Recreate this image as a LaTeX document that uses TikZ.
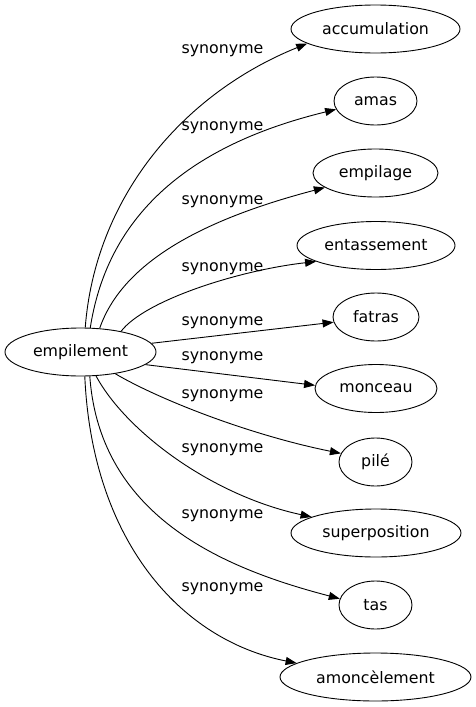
\documentclass[tikz,border=0pt]{standalone}
\usepackage{fontspec}
\setmainfont{DejaVu Sans}
\usetikzlibrary{shapes.geometric,arrows.meta}
\tikzset{
  word/.style={ellipse,draw,line width=0.9pt,inner sep=0pt,minimum height=48pt,font=\fontsize{15.8}{19}\selectfont},
  rel/.style={font=\fontsize{15.8}{19}\selectfont,inner sep=0pt},
  edge/.style={line width=0.9pt,-{Triangle[length=11pt,width=8pt]}}
}
\begin{document}
\begin{tikzpicture}[x=1pt,y=-1pt]
\useasboundingbox (0,0) rectangle (476,707);
\node[word,minimum width=151pt] (e) at (80.5,352) {empilement};
\node[word,minimum width=169pt] (acc) at (375.5,29) {accumulation};
\node[word,minimum width=83pt] (amas) at (375.5,101) {amas};
\node[word,minimum width=125pt] (empilage) at (375.5,173) {empilage};
\node[word,minimum width=158pt] (ent) at (376,245.5) {entassement};
\node[word,minimum width=86pt] (fatras) at (376,317) {fatras};
\node[word,minimum width=122pt] (monceau) at (376,388.5) {monceau};
\node[word,minimum width=73pt] (pile) at (375.5,462) {pilé};
\node[word,minimum width=170pt] (sup) at (376,533) {superposition};
\node[word,minimum width=73pt] (tas) at (375.5,605) {tas};
\node[word,minimum width=191pt] (amon) at (375.5,677) {amoncèlement};

\node[rel] (l1) at (222.5,51) {synonyme};
\node[rel] (l2) at (222.5,128) {synonyme};
\node[rel] (l3) at (222.5,202) {synonyme};
\node[rel] (l4) at (222.5,269) {synonyme};
\node[rel] (l5) at (222.5,323) {synonyme};
\node[rel] (l6) at (222.5,358) {synonyme};
\node[rel] (l7) at (222.5,396) {synonyme};
\node[rel] (l8) at (222.5,450) {synonyme};
\node[rel] (l9) at (222.5,516) {synonyme};
\node[rel] (l10) at (222.5,589) {synonyme};

\draw[edge] (e.79) .. controls (95,200) and (180,95) .. (acc.192);
\draw[edge] (e.68) .. controls (110,200) and (210,140) .. (amas.192);
\draw[edge] (e.51) .. controls (125,255) and (220,215) .. (empilage.196);
\draw[edge] (e.27) .. controls (145,300) and (240,270) .. (ent.195);
\draw[edge] (e.7) -- (fatras.187);
\draw[edge] (e.349) -- (monceau.177);
\draw[edge] (e.328) .. controls (160,400) and (250,435) .. (pile.166);
\draw[edge] (e.303) .. controls (125,430) and (210,495) .. (sup.166);
\draw[edge] (e.291) .. controls (100,520) and (230,570) .. (tas.170);
\draw[edge] (e.280) .. controls (92,540) and (180,640) .. (amon.170);
\end{tikzpicture}
\end{document}
